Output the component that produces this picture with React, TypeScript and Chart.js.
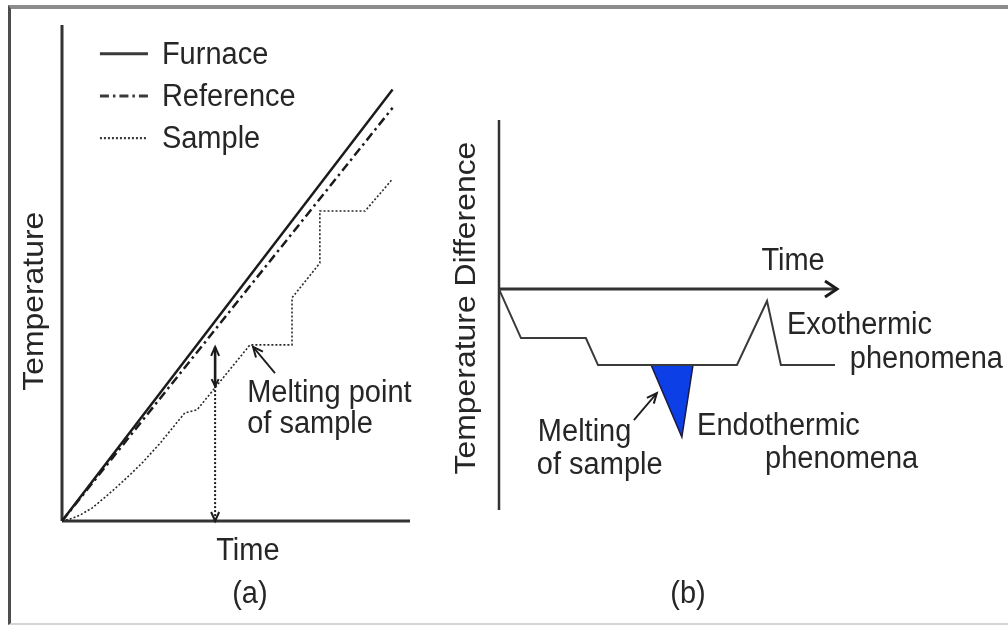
import React, { useEffect, useRef } from "react";
import { Chart, registerables } from "chart.js";

Chart.register(...registerables);

// ---------------- Panel (a): temperature vs time ----------------
const furnaceTime = [0, 95];
const furnaceTemp = [0, 87];
const referenceTime = [0, 95];
const referenceTemp = [0, 83.3];
const sampleTime = [0, 2.3, 5.2, 8.6, 12.4, 15.8, 19.5, 23.3, 28.2, 32.5, 35.3, 38.8, 54.0, 66.1, 66.1, 74.1, 74.1, 87.1, 94.8];
const sampleTemp = [0, 0.4, 1.2, 2.6, 4.8, 6.9, 9.3, 11.9, 15.7, 19.4, 21.8, 22.4, 35.5, 35.5, 45.0, 52.0, 62.5, 62.5, 68.8];
const deltaTime = [44, 44];
const deltaSolid = [35.1, 27.2];
const deltaDotted = [27.2, 0];
const meltPointerTime = [61.2, 54.9];
const meltPointerTemp = [29.8, 35.1];
const legendLabels = ["Furnace", "Reference", "Sample"];

// ---------------- Panel (b): temperature difference vs time ----------------
const dtaTime = [0, 6.5, 25.7, 29.3, 70.4, 79.3, 83.4, 99.4];
const dtaDiff = [0, -22.2, -22.2, -34.4, -34.4, -5.4, -34.4, -34.4];
const peakTime = [45.0, 54.1, 57.4, 45.0];
const peakDiff = [-34.4, -67.0, -34.4, -34.4];
const meltArrowTime = [39.9, 46.7];
const meltArrowDiff = [-59.3, -47.1];

const INK = "#1b1b1b";
const TEXT = "#262626";
const FONT = '"Liberation Sans", Arial, Helvetica, sans-serif';
const FONT_SIZE = 29;
const STRETCH_Y = 1.1;

type P = [number, number];
type TextItem = { text: string; at: P; align?: CanvasTextAlign; rotate?: boolean };
type Head = { from: P; to: P; len: number; half: number; width: number };
type Axis = { from: P; to: P; width: number };
type LegendCfg = { x0: number; x1: number; tx: number; rows: number[] };

const pts = (xs: number[], ys: number[]) => xs.map((x, i) => ({ x, y: ys[i] }));

function makeOverlay(cfg: { axes: Axis[]; heads: Head[]; texts: TextItem[]; legend?: LegendCfg }) {
  const toPx = (chart: any, p: P): P => [chart.scales.x.getPixelForValue(p[0]), chart.scales.y.getPixelForValue(p[1])];
  return {
    id: "overlay",
    beforeDatasetsDraw(chart: any) {
      const ctx = chart.ctx as CanvasRenderingContext2D;
      ctx.save();
      ctx.strokeStyle = "#333333";
      ctx.lineCap = "butt";
      for (const a of cfg.axes) {
        const f = toPx(chart, a.from);
        const t = toPx(chart, a.to);
        ctx.lineWidth = a.width;
        ctx.beginPath();
        ctx.moveTo(f[0], f[1]);
        ctx.lineTo(t[0], t[1]);
        ctx.stroke();
      }
      ctx.restore();
    },
    afterDatasetsDraw(chart: any) {
      const ctx = chart.ctx as CanvasRenderingContext2D;
      ctx.save();
      // arrow heads
      ctx.strokeStyle = INK;
      ctx.lineJoin = "miter";
      for (const h of cfg.heads) {
        const f = toPx(chart, h.from);
        const t = toPx(chart, h.to);
        const ang = Math.atan2(t[1] - f[1], t[0] - f[0]);
        const bx = t[0] - h.len * Math.cos(ang);
        const by = t[1] - h.len * Math.sin(ang);
        const nx = -Math.sin(ang) * h.half;
        const ny = Math.cos(ang) * h.half;
        ctx.lineWidth = h.width;
        ctx.setLineDash([]);
        ctx.beginPath();
        ctx.moveTo(bx + nx, by + ny);
        ctx.lineTo(t[0], t[1]);
        ctx.lineTo(bx - nx, by - ny);
        ctx.stroke();
      }
      // legend
      if (cfg.legend) {
        const lg = cfg.legend;
        legendLabels.forEach((lab, i) => {
          const ds = chart.data.datasets[i];
          const y = chart.scales.y.getPixelForValue(lg.rows[i]);
          const x0 = chart.scales.x.getPixelForValue(lg.x0);
          const x1 = chart.scales.x.getPixelForValue(lg.x1);
          ctx.strokeStyle = "#3a3a3a";
          ctx.lineWidth = ds.borderWidth + 0.5;
          ctx.setLineDash(ds.borderDash || []);
          ctx.beginPath();
          ctx.moveTo(x0, y);
          ctx.lineTo(x1, y);
          ctx.stroke();
          ctx.setLineDash([]);
          const tx = chart.scales.x.getPixelForValue(lg.tx);
          ctx.save();
          ctx.translate(tx, y);
          ctx.scale(1, STRETCH_Y);
          ctx.fillStyle = TEXT;
          ctx.font = `${FONT_SIZE}px ${FONT}`;
          ctx.textAlign = "left";
          ctx.textBaseline = "middle";
          ctx.fillText(lab, 0, 1);
          ctx.restore();
        });
      }
      // texts
      for (const t of cfg.texts) {
        const p = toPx(chart, t.at);
        ctx.save();
        ctx.translate(p[0], p[1]);
        ctx.scale(1, STRETCH_Y);
        if (t.rotate) ctx.rotate(-Math.PI / 2);
        ctx.fillStyle = TEXT;
        ctx.font = `${FONT_SIZE}px ${FONT}`;
        ctx.textAlign = t.align || "left";
        ctx.textBaseline = "alphabetic";
        ctx.fillText(t.text, 0, 0);
        ctx.restore();
      }
      ctx.restore();
    },
  };
}

const baseOptions = (padding: any, ymin: number, ymax: number) => ({
  responsive: false,
  animation: false as const,
  devicePixelRatio: 1,
  events: [] as any[],
  layout: { padding },
  scales: {
    x: { type: "linear" as const, min: 0, max: 100, display: false },
    y: { type: "linear" as const, min: ymin, max: ymax, display: false },
  },
  plugins: { legend: { display: false }, tooltip: { enabled: false } },
});

export default function App() {
  const refA = useRef<HTMLCanvasElement>(null);
  const refB = useRef<HTMLCanvasElement>(null);

  useEffect(() => {
    const line = (data: any[], extra: any) => ({
      data,
      showLine: true,
      pointRadius: 0,
      borderColor: INK,
      borderWidth: 2.5,
      clip: false,
      tension: 0,
      ...extra,
    });

    const chartA = new Chart(refA.current!, {
      type: "scatter",
      data: {
        datasets: [
          line(pts(furnaceTime, furnaceTemp), { label: "Furnace", borderWidth: 2.5 }),
          line(pts(referenceTime, referenceTemp), { label: "Reference", borderWidth: 2.5, borderDash: [9, 4, 2.5, 4] }),
          line(pts(sampleTime, sampleTemp), { label: "Sample", borderWidth: 1.6, borderDash: [2, 2], borderColor: "#2a2a2a" }),
          line(pts(deltaTime, deltaSolid), { label: "dT", borderWidth: 2.6 }),
          line(pts(deltaTime, deltaDotted), { label: "drop", borderWidth: 2, borderDash: [2, 2] }),
          line(pts(meltPointerTime, meltPointerTemp), { label: "pointer", borderWidth: 1.8 }),
        ],
      },
      options: baseOptions({ left: 62, right: 598, top: 25, bottom: 104 }, 0, 100) as any,
      plugins: [
        makeOverlay({
          axes: [
            { from: [0, 0], to: [0, 100], width: 3 },
            { from: [0, 0], to: [100, 0], width: 3 },
          ],
          heads: [
            { from: [deltaTime[0], deltaSolid[1]], to: [deltaTime[0], deltaSolid[0]], len: 9, half: 4, width: 2 },
            { from: [deltaTime[0], deltaSolid[0]], to: [deltaTime[0], deltaSolid[1]], len: 7, half: 3.5, width: 2 },
            { from: [deltaTime[1], deltaDotted[0]], to: [deltaTime[1], deltaDotted[1]], len: 9, half: 4, width: 2 },
            { from: [meltPointerTime[0], meltPointerTemp[0]], to: [meltPointerTime[1], meltPointerTemp[1]], len: 10, half: 4.5, width: 2 },
          ],
          legend: { x0: 10.9, x1: 24.7, tx: 28.7, rows: [94.2, 85.7, 77.2] },
          texts: [
            { text: "Temperature", at: [-5.5, 44.3], align: "center", rotate: true },
            { text: "Time", at: [53.4, -7.9], align: "center" },
            { text: "(a)", at: [54.0, -16.5], align: "center" },
            { text: "Melting point", at: [53.2, 24.0] },
            { text: "of sample", at: [53.2, 17.7] },
          ],
        }),
      ],
    });

    const chartB = new Chart(refB.current!, {
      type: "scatter",
      data: {
        datasets: [
          line(pts(dtaTime, dtaDiff), { label: "DTA", borderWidth: 2, borderColor: "#3a3a3a" }),
          line(pts(peakTime, peakDiff), {
            label: "Melting peak",
            borderWidth: 1.5,
            borderColor: "#1a1a40",
            backgroundColor: "#0d3fe6",
            fill: "shape",
          }),
          line(pts(meltArrowTime, meltArrowDiff), { label: "pointer", borderWidth: 1.8 }),
        ],
      },
      options: baseOptions({ left: 499, right: 171, top: 120, bottom: 115 }, -100, 76.5) as any,
      plugins: [
        makeOverlay({
          axes: [
            { from: [0, -100], to: [0, 76.5], width: 2.5 },
            { from: [0, 0], to: [100, 0], width: 3 },
          ],
          heads: [
            { from: [0, 0], to: [100, 0], len: 12, half: 8, width: 3 },
            { from: [meltArrowTime[0], meltArrowDiff[0]], to: [meltArrowTime[1], meltArrowDiff[1]], len: 10, half: 4.5, width: 2 },
          ],
          texts: [
            { text: "Temperature Difference", at: [-7.1, -8.6], align: "center", rotate: true },
            { text: "Time", at: [87.0, 8.6], align: "center" },
            { text: "Exothermic", at: [85.2, -20.4] },
            { text: "phenomena", at: [149.1, -35.7], align: "right" },
            { text: "Endothermic", at: [58.6, -66.1] },
            { text: "phenomena", at: [78.7, -81.0] },
            { text: "Melting", at: [11.5, -68.8] },
            { text: "of sample", at: [11.2, -83.7] },
            { text: "(b)", at: [55.9, -142.1], align: "center" },
          ],
        }),
      ],
    });

    return () => {
      chartA.destroy();
      chartB.destroy();
    };
  }, []);

  const layer: React.CSSProperties = { position: "absolute", left: 0, top: 0, width: 1008, height: 625 };
  return (
    <div style={{ ...layer, background: "#ffffff", overflow: "hidden" }}>
      <div
        style={{
          position: "absolute",
          left: 8,
          top: 5,
          width: 1000,
          height: 620,
          boxSizing: "border-box",
          borderTop: "4px solid #8c8c8c",
          borderLeft: "3px solid #4d4d4d",
          borderBottom: "2px solid #d4d4d4",
        }}
      />
      <canvas ref={refA} width={1008} height={625} style={layer} />
      <canvas ref={refB} width={1008} height={625} style={layer} />
    </div>
  );
}
